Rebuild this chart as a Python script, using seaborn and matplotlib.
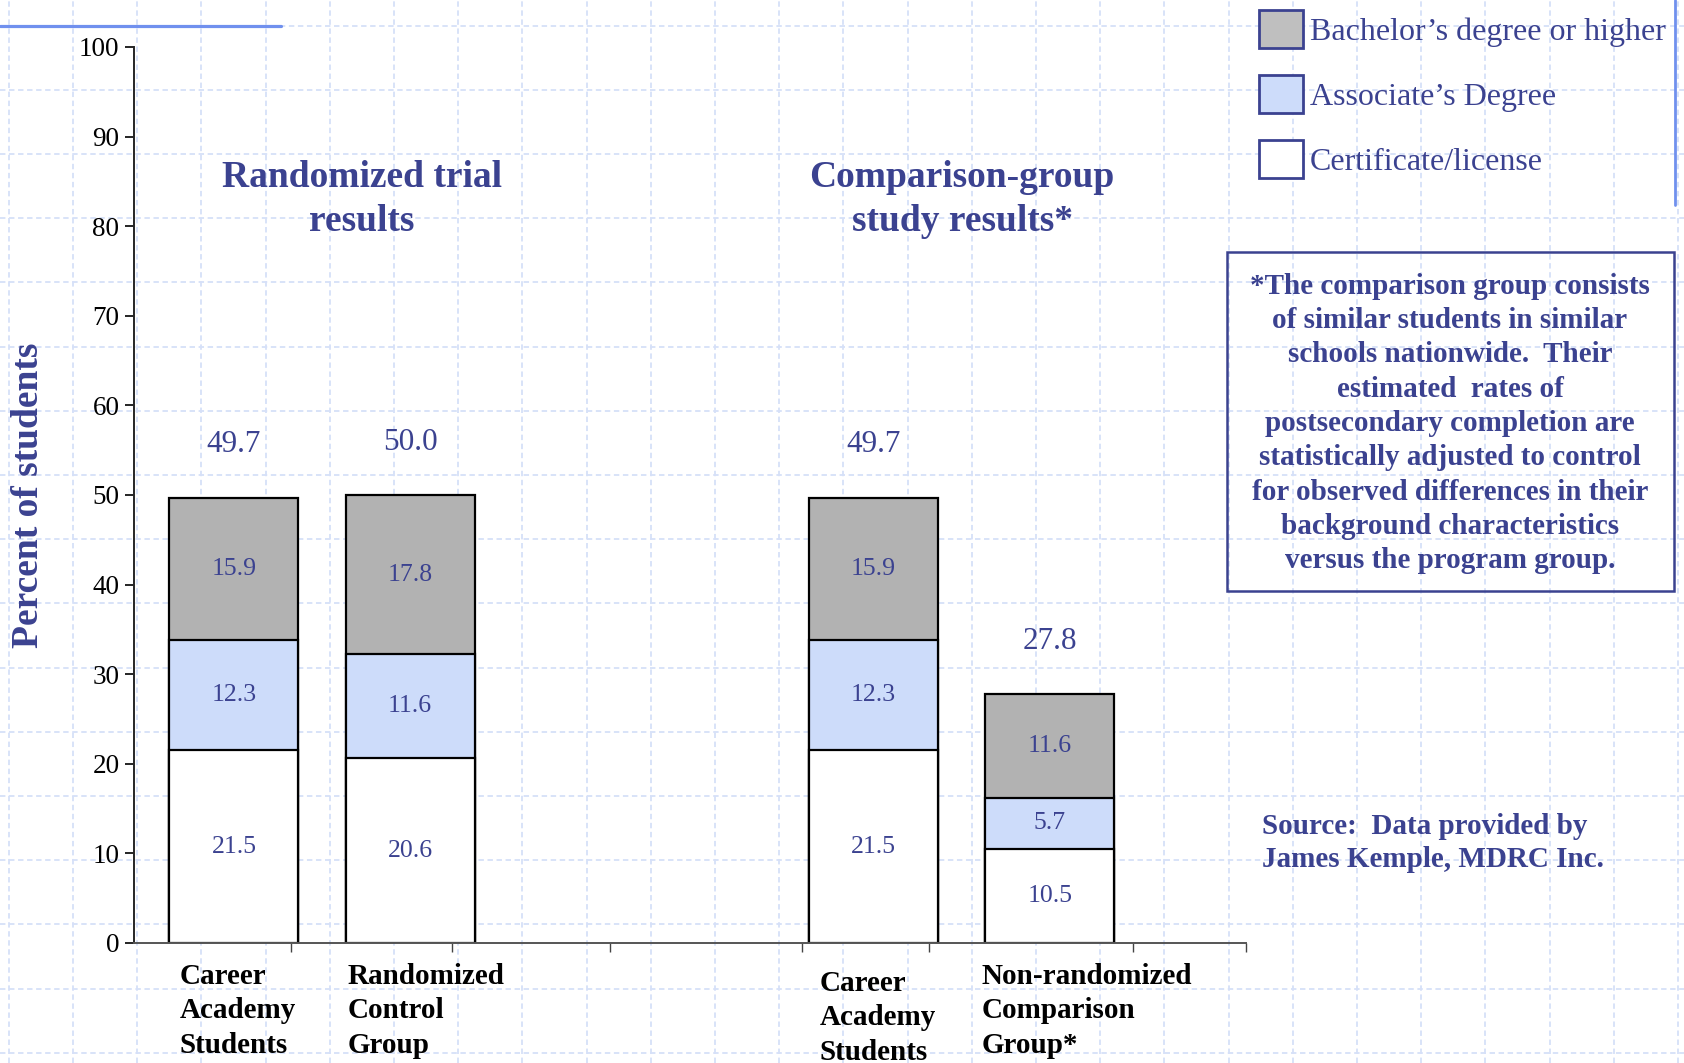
import numpy as np
import pandas as pd
import seaborn as sns
import matplotlib.pyplot as plt
from matplotlib.patches import Patch, Rectangle
import matplotlib.transforms as mtransforms

sns.set_style("ticks")
plt.rcParams["font.family"] = ["Liberation Serif", "DejaVu Serif"]

# data ------------------------------------------------------------------------
groups = ["Career\nAcademy\nStudents", "Randomized\nControl\nGroup",
          "Career\nAcademy\nStudents", "Non-randomized\nComparison\nGroup*"]
certificate = [21.5, 20.6, 21.5, 10.5]
associate = [12.3, 11.6, 12.3, 5.7]
bachelor = [15.9, 17.8, 15.9, 11.6]
totals = [49.7, 50.0, 49.7, 27.8]
series_names = ["Bachelor\u2019s degree or higher", "Associate\u2019s Degree", "Certificate/license"]
panel_titles = ["Randomized trial\nresults", "Comparison-group\nstudy results*"]

# layout / style --------------------------------------------------------------
W, H = 1684, 1063
X_POS = [0.0, 1.0, 3.63, 4.63]
BAR_W = 0.732
XLIM = (-0.567, 5.744)
XTICK_MARKS = [0.323, 1.238, 2.134, 3.226, 3.945, 5.104, 5.744]
LABEL_DX = [0.06, 0.01, 0.06, -0.02]      # small nudges of the category labels
LABEL_DY = [0.0, 0.0, -0.008, 0.0]
NAVY = "#3b4290"
GRAY = "#b2b2b2"
LBLUE = "#cddcfa"
GRID_C = "#d6e0f8"
DECO_C = "#7090ee"

df = pd.DataFrame({"x": X_POS, "cert": certificate, "assoc": associate, "bach": bachelor})
df["lvl2"] = df["cert"] + df["assoc"]
df["lvl3"] = df["lvl2"] + df["bach"]

fig = plt.figure(figsize=(W / 100, H / 100), dpi=100)

# graph-paper background
bg = fig.add_axes([0, 0, 1, 1], zorder=-5)
bg.set_xlim(0, W); bg.set_ylim(H, 0); bg.axis("off")
for gx in np.arange(8.7, W, 64.2):
    bg.axvline(gx, color=GRID_C, lw=1.3, ls=(0, (3, 2)))
for gy in np.arange(25.5, H, 64.2):
    bg.axhline(gy, color=GRID_C, lw=1.3, ls=(0, (3, 2)))
bg.plot([0, 281], [26, 26], color=DECO_C, lw=2.3)
bg.plot([1675, 1675], [0, 205], color=DECO_C, lw=2)

ax = fig.add_axes([134 / W, 1 - 943 / H, (1246 - 134) / W, (943 - 47) / H])
ax.set_facecolor("none")

# stacked bars drawn as overlapping cumulative bars
for col, fc in [("lvl3", GRAY), ("lvl2", LBLUE), ("cert", "white")]:
    sns.barplot(data=df, x="x", y=col, native_scale=True, width=BAR_W, color=fc,
                saturation=1, edgecolor="black", linewidth=1.6, errorbar=None, ax=ax)

# segment labels
for i, x in enumerate(X_POS):
    for lo, val in [(0, certificate[i]), (certificate[i], associate[i]),
                    (certificate[i] + associate[i], bachelor[i])]:
        ax.text(x, lo + val / 2, f"{val:.1f}", ha="center", va="center",
                fontsize=18.5, color=NAVY)
    ax.annotate(f"{totals[i]:.1f}", (x, totals[i]), xytext=(0, 38),
                textcoords="offset points", ha="center", va="center",
                fontsize=22.5, color=NAVY)

ax.set_xlim(*XLIM)
ax.set_ylim(0, 100)
ax.set_yticks(range(0, 101, 10))
ax.tick_params(axis="y", labelsize=19.5, length=6.5, width=1.2, direction="out",
               colors="black", pad=4)
ax.set_xticks(XTICK_MARKS)
ax.set_xticklabels([])
ax.tick_params(axis="x", length=6.5, width=1.0, direction="out", color="#444444")
ax.set_xlabel("")
ax.set_ylabel("Percent of students", fontsize=27, fontweight="bold", color=NAVY)
ax.yaxis.set_label_coords(-0.0953, 0.5)
ax.yaxis.label.set_verticalalignment("center")
sns.despine(ax=ax)
ax.spines["left"].set_linewidth(1.4)
ax.spines["bottom"].set_linewidth(1.4)
ax.spines["bottom"].set_color("#555555")

# category labels under bars
trans = mtransforms.blended_transform_factory(ax.transData, ax.transAxes)
for x, lab, dx, dy in zip(X_POS, groups, LABEL_DX, LABEL_DY):
    ax.text(x - BAR_W / 2 + dx, -0.0755 + dy, lab, transform=trans, ha="left",
            va="center", fontsize=21, fontweight="bold", color="black",
            linespacing=1.36)

# panel titles
for tx, t in zip([362, 962], panel_titles):
    fig.text(tx / W, 1 - 199.5 / H, t, ha="center", va="center", fontsize=27,
             fontweight="bold", color=NAVY, linespacing=1.3)

# legend
handles = [Patch(facecolor=c, edgecolor=NAVY, linewidth=2)
           for c in ["#bfbfbf", LBLUE, "white"]]
fig.legend(handles, series_names, loc="upper left",
           bbox_to_anchor=(1259 / W, 1 - 10 / H), frameon=False, fontsize=23,
           handlelength=1.375, handleheight=1.45, handletextpad=0.22,
           labelspacing=0.85, borderpad=0, borderaxespad=0, labelcolor=NAVY)

# footnote box
fig.add_artist(Rectangle((1227 / W, 1 - 591 / H), (1674 - 1227) / W, (591 - 252) / H,
                         transform=fig.transFigure, fill=False, edgecolor=NAVY, lw=1.8))
note = ("*The comparison group consists\nof similar students in similar\n"
        "schools nationwide.  Their\nestimated  rates of\n"
        "postsecondary completion are\nstatistically adjusted to control\n"
        "for observed differences in their\nbackground characteristics\n"
        "versus the program group.")
fig.text(1450 / W, 1 - 423.5 / H, note, ha="center", va="center", fontsize=21,
         fontweight="bold", color=NAVY, linespacing=1.35)

fig.text(1262 / W, 1 - 843 / H, "Source:  Data provided by\nJames Kemple, MDRC Inc.",
         ha="left", va="center", fontsize=21, fontweight="bold", color=NAVY,
         linespacing=1.3)

fig.savefig("out.png", dpi=100, facecolor="white")
